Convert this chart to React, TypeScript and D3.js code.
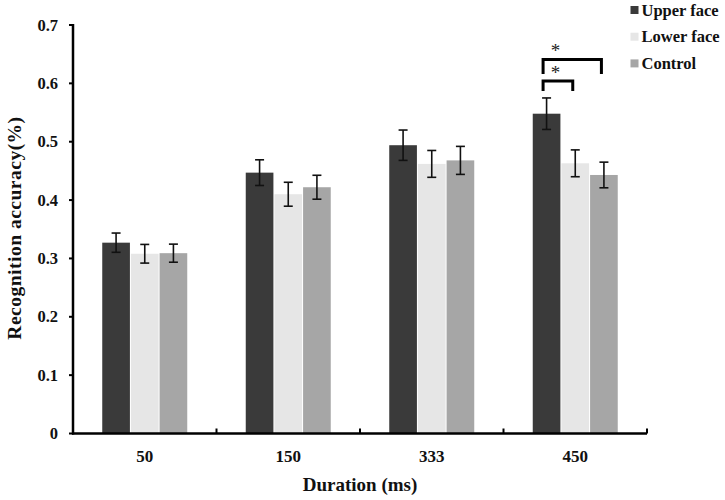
import { scaleBand, scaleLinear, range } from "d3";
import { useEffect } from "react";

const durations = ["50", "150", "333", "450"];
const series = ["Upper face", "Lower face", "Control"];
const colors = ["#3a3a3a", "#e6e6e6", "#a6a6a6"];
// mean accuracy per series, in order of durations
const upperFace = [0.327, 0.447, 0.494, 0.548];
const lowerFace = [0.308, 0.41, 0.462, 0.463];
const control = [0.309, 0.422, 0.468, 0.443];
// standard errors
const upperErr = [0.0165, 0.022, 0.026, 0.027];
const lowerErr = [0.016, 0.0205, 0.023, 0.023];
const controlErr = [0.0155, 0.0205, 0.024, 0.022];
const yTicks = [0, 0.1, 0.2, 0.3, 0.4, 0.5, 0.6, 0.7];

const values = [upperFace, lowerFace, control];
const errors = [upperErr, lowerErr, controlErr];

// significance brackets at 450 ms: [from series, to series]
const sigPairs = [
  [0, 2],
  [0, 1],
];

const MARGINS = { top: 25, right: 78, bottom: 66.5, left: 73 };
const WIDTH = 725;
const HEIGHT = 500;
const FONT = "'Liberation Serif', 'Times New Roman', serif";

const App = () => {
  useEffect(() => {
    document.body.style.margin = "0";
  }, []);

  const x0 = scaleBand()
    .domain(durations)
    .range([MARGINS.left, WIDTH - MARGINS.right]);
  const bw0 = x0.bandwidth();
  const x1 = scaleBand()
    .domain(series)
    .range([bw0 / 2 - 42.5, bw0 / 2 + 42.5])
    .paddingInner(0.035);
  const bw = x1.bandwidth();
  const y = scaleLinear()
    .domain([0, 0.7])
    .range([HEIGHT - MARGINS.bottom, MARGINS.top]);
  const y0 = y(0);

  const barX = (d: number, s: number) =>
    (x0(durations[d]) as number) + (x1(series[s]) as number);

  return (
    <svg width={WIDTH} height={HEIGHT} style={{ display: "block", background: "white" }} fontFamily={FONT}>
      {/* bars */}
      {series.map((s, si) =>
        durations.map((d, di) => (
          <rect
            key={s + d}
            x={barX(di, si)}
            y={y(values[si][di])}
            width={bw}
            height={y0 - y(values[si][di])}
            fill={colors[si]}
          />
        ))
      )}
      {/* error bars */}
      {series.map((s, si) =>
        durations.map((d, di) => {
          const cx = barX(di, si) + bw / 2;
          const top = y(values[si][di] + errors[si][di]);
          const bot = y(values[si][di] - errors[si][di]);
          return (
            <g key={"e" + s + d} stroke="#111" strokeWidth={1.6}>
              <line x1={cx} x2={cx} y1={top} y2={bot} />
              <line x1={cx - 4.5} x2={cx + 4.5} y1={top} y2={top} />
              <line x1={cx - 4.5} x2={cx + 4.5} y1={bot} y2={bot} />
            </g>
          );
        })
      )}
      {/* y axis */}
      <line x1={MARGINS.left} x2={MARGINS.left} y1={y(0.7) - 1} y2={y0 + 1} stroke="black" strokeWidth={2.5} />
      {yTicks.map((t) => (
        <g key={"yt" + t}>
          <line x1={MARGINS.left - 4} x2={MARGINS.left} y1={y(t)} y2={y(t)} stroke="black" strokeWidth={2} />
          <text
            x={MARGINS.left - 15}
            y={y(t)}
            textAnchor="end"
            dominantBaseline="central"
            fontSize={16.5}
            fontWeight="bold"
            fill="#111"
          >
            {t === 0 ? "0" : t.toFixed(1)}
          </text>
        </g>
      ))}
      {/* x axis */}
      <line x1={MARGINS.left - 1} x2={WIDTH - MARGINS.right} y1={y0} y2={y0} stroke="black" strokeWidth={2.5} />
      {range(1, durations.length + 1).map((i) => {
        const tx = MARGINS.left + i * bw0;
        return <line key={"xt" + i} x1={tx} x2={tx} y1={y0} y2={y0 - 5} stroke="black" strokeWidth={2} />;
      })}
      {durations.map((d) => (
        <text
          key={"xl" + d}
          x={(x0(d) as number) + bw0 / 2}
          y={462}
          textAnchor="middle"
          fontSize={17}
          fontWeight="bold"
          fill="#111"
        >
          {d}
        </text>
      ))}
      <text x={360} y={491} textAnchor="middle" fontSize={19} fontWeight="bold" fill="#111">
        Duration (ms)
      </text>
      <text
        transform={`translate(21, 228) rotate(-90)`}
        textAnchor="middle"
        fontSize={19.5}
        fontWeight="bold"
        letterSpacing={0.5}
        fill="#111"
      >
        Recognition accuracy(%)
      </text>
      {/* significance brackets */}
      {sigPairs.map(([a, b], i) => {
        const di = durations.length - 1;
        const xa = barX(di, a) + bw / 2 - 3.5;
        const xb = barX(di, b) + bw / 2 - 2.5;
        const top = i === 0 ? 59.5 : 81;
        const leg = i === 0 ? 14.5 : 10;
        return (
          <g key={"sig" + i}>
            <path
              d={`M${xa},${top + leg}V${top}H${xb}V${top + leg}`}
              fill="none"
              stroke="black"
              strokeWidth={3}
            />
            <text
              x={barX(di, 0) + bw / 2 + 9}
              y={top - 11 + 0.45 * 19}
              textAnchor="middle"
              fontSize={19}
              fill="#222"
            >
              *
            </text>
          </g>
        );
      })}
      {/* legend */}
      {series.map((s, i) => (
        <g key={"lg" + s} transform={`translate(630.5, ${10 + i * 26.7})`}>
          <rect x={0} y={-4} width={8} height={8} fill={colors[i]} />
          <text x={11} y={0} dominantBaseline="central" fontSize={16.5} fontWeight="bold" fill="#111">
            {s}
          </text>
        </g>
      ))}
    </svg>
  );
};

export default App;
